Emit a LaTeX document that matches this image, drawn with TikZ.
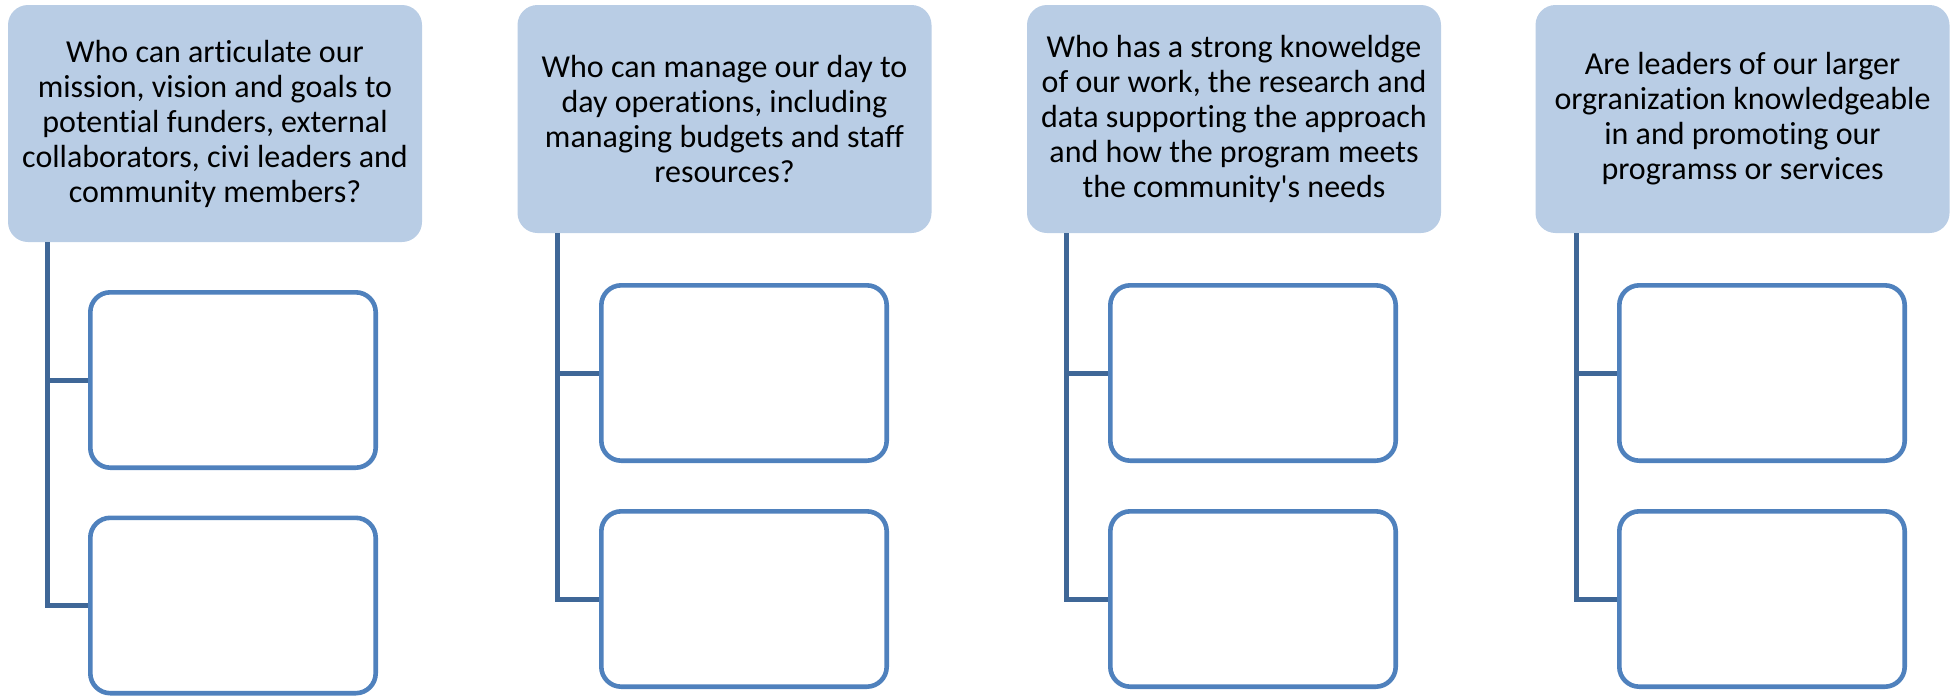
\documentclass[tikz,border=0pt]{standalone}
\usepackage{fontspec}
\setmainfont{Carlito}[Ligatures={NoCommon}]
\usepackage{tikz}
\usetikzlibrary{positioning}

\definecolor{headfill}{HTML}{B9CDE5}
\definecolor{boxline}{HTML}{4F81BD}
\definecolor{connline}{HTML}{3F6797}

\begin{document}
\begin{tikzpicture}[x=0.5pt, y=-0.5pt,
    head/.style={fill=headfill, draw=none, rounded corners=10pt,
      minimum width=207pt, minimum height=114pt, align=center,
      font=\fontsize{16}{17.5}\selectfont, inner sep=0pt},
    slot/.style={draw=boxline, line width=2.3pt, fill=white, rounded corners=10pt,
      minimum width=142.7pt, minimum height=87.7pt, inner sep=0pt},
    conn/.style={draw=connline, line width=2.5pt}]
      \useasboundingbox (0,0) rectangle (1953,698);

      % 1. the four question boxes
      \node[head, minimum height=118.5pt] (mission) at (215,123.5)
        {Who can articulate our\\mission, vision and goals to\\potential funders, external\\collaborators, civi leaders and\\community members?};
      \node[head] (operations) at (724.5,119)
        {Who can manage our day to\\day operations, including\\managing budgets and staff\\resources?};
      \node[head] (knowledge) at (1234,119)
        {Who has a strong knoweldge\\of our work, the research and\\data supporting the approach\\and how the program meets\\the community\textquotesingle s needs};
      \node[head] (leaders) at (1742.5,119)
        {Are leaders of our larger\\orgranization knowledgeable\\in and promoting our\\programss or services};

      % 2. the empty answer boxes under them
      \node[slot] (mission a) at (233,380) {};
      \node[slot] (mission b) at (233,605.5) {};
      \node[slot] (operations a) at (744,373) {};
      \node[slot] (operations b) at (744,599) {};
      \node[slot] (knowledge a) at (1253,373) {};
      \node[slot] (knowledge b) at (1253,599) {};
      \node[slot] (leaders a) at (1762,373) {};
      \node[slot] (leaders b) at (1762,599) {};

      % 3. where the connectors leave the question boxes
      \coordinate (mission t) at (mission.south -| 47,0);
      \coordinate (operations t) at (operations.south -| 557,0);
      \coordinate (knowledge t) at (knowledge.south -| 1066,0);
      \coordinate (leaders t) at (leaders.south -| 1576,0);

      % 4. connectors
      \draw[conn] (mission t) |- (mission a.west);
      \draw[conn] (mission t) |- (mission b.west);
      \draw[conn] (operations t) |- (operations a.west);
      \draw[conn] (operations t) |- (operations b.west);
      \draw[conn] (knowledge t) |- (knowledge a.west);
      \draw[conn] (knowledge t) |- (knowledge b.west);
      \draw[conn] (leaders t) |- (leaders a.west);
      \draw[conn] (leaders t) |- (leaders b.west);
    \end{tikzpicture}
\end{document}
